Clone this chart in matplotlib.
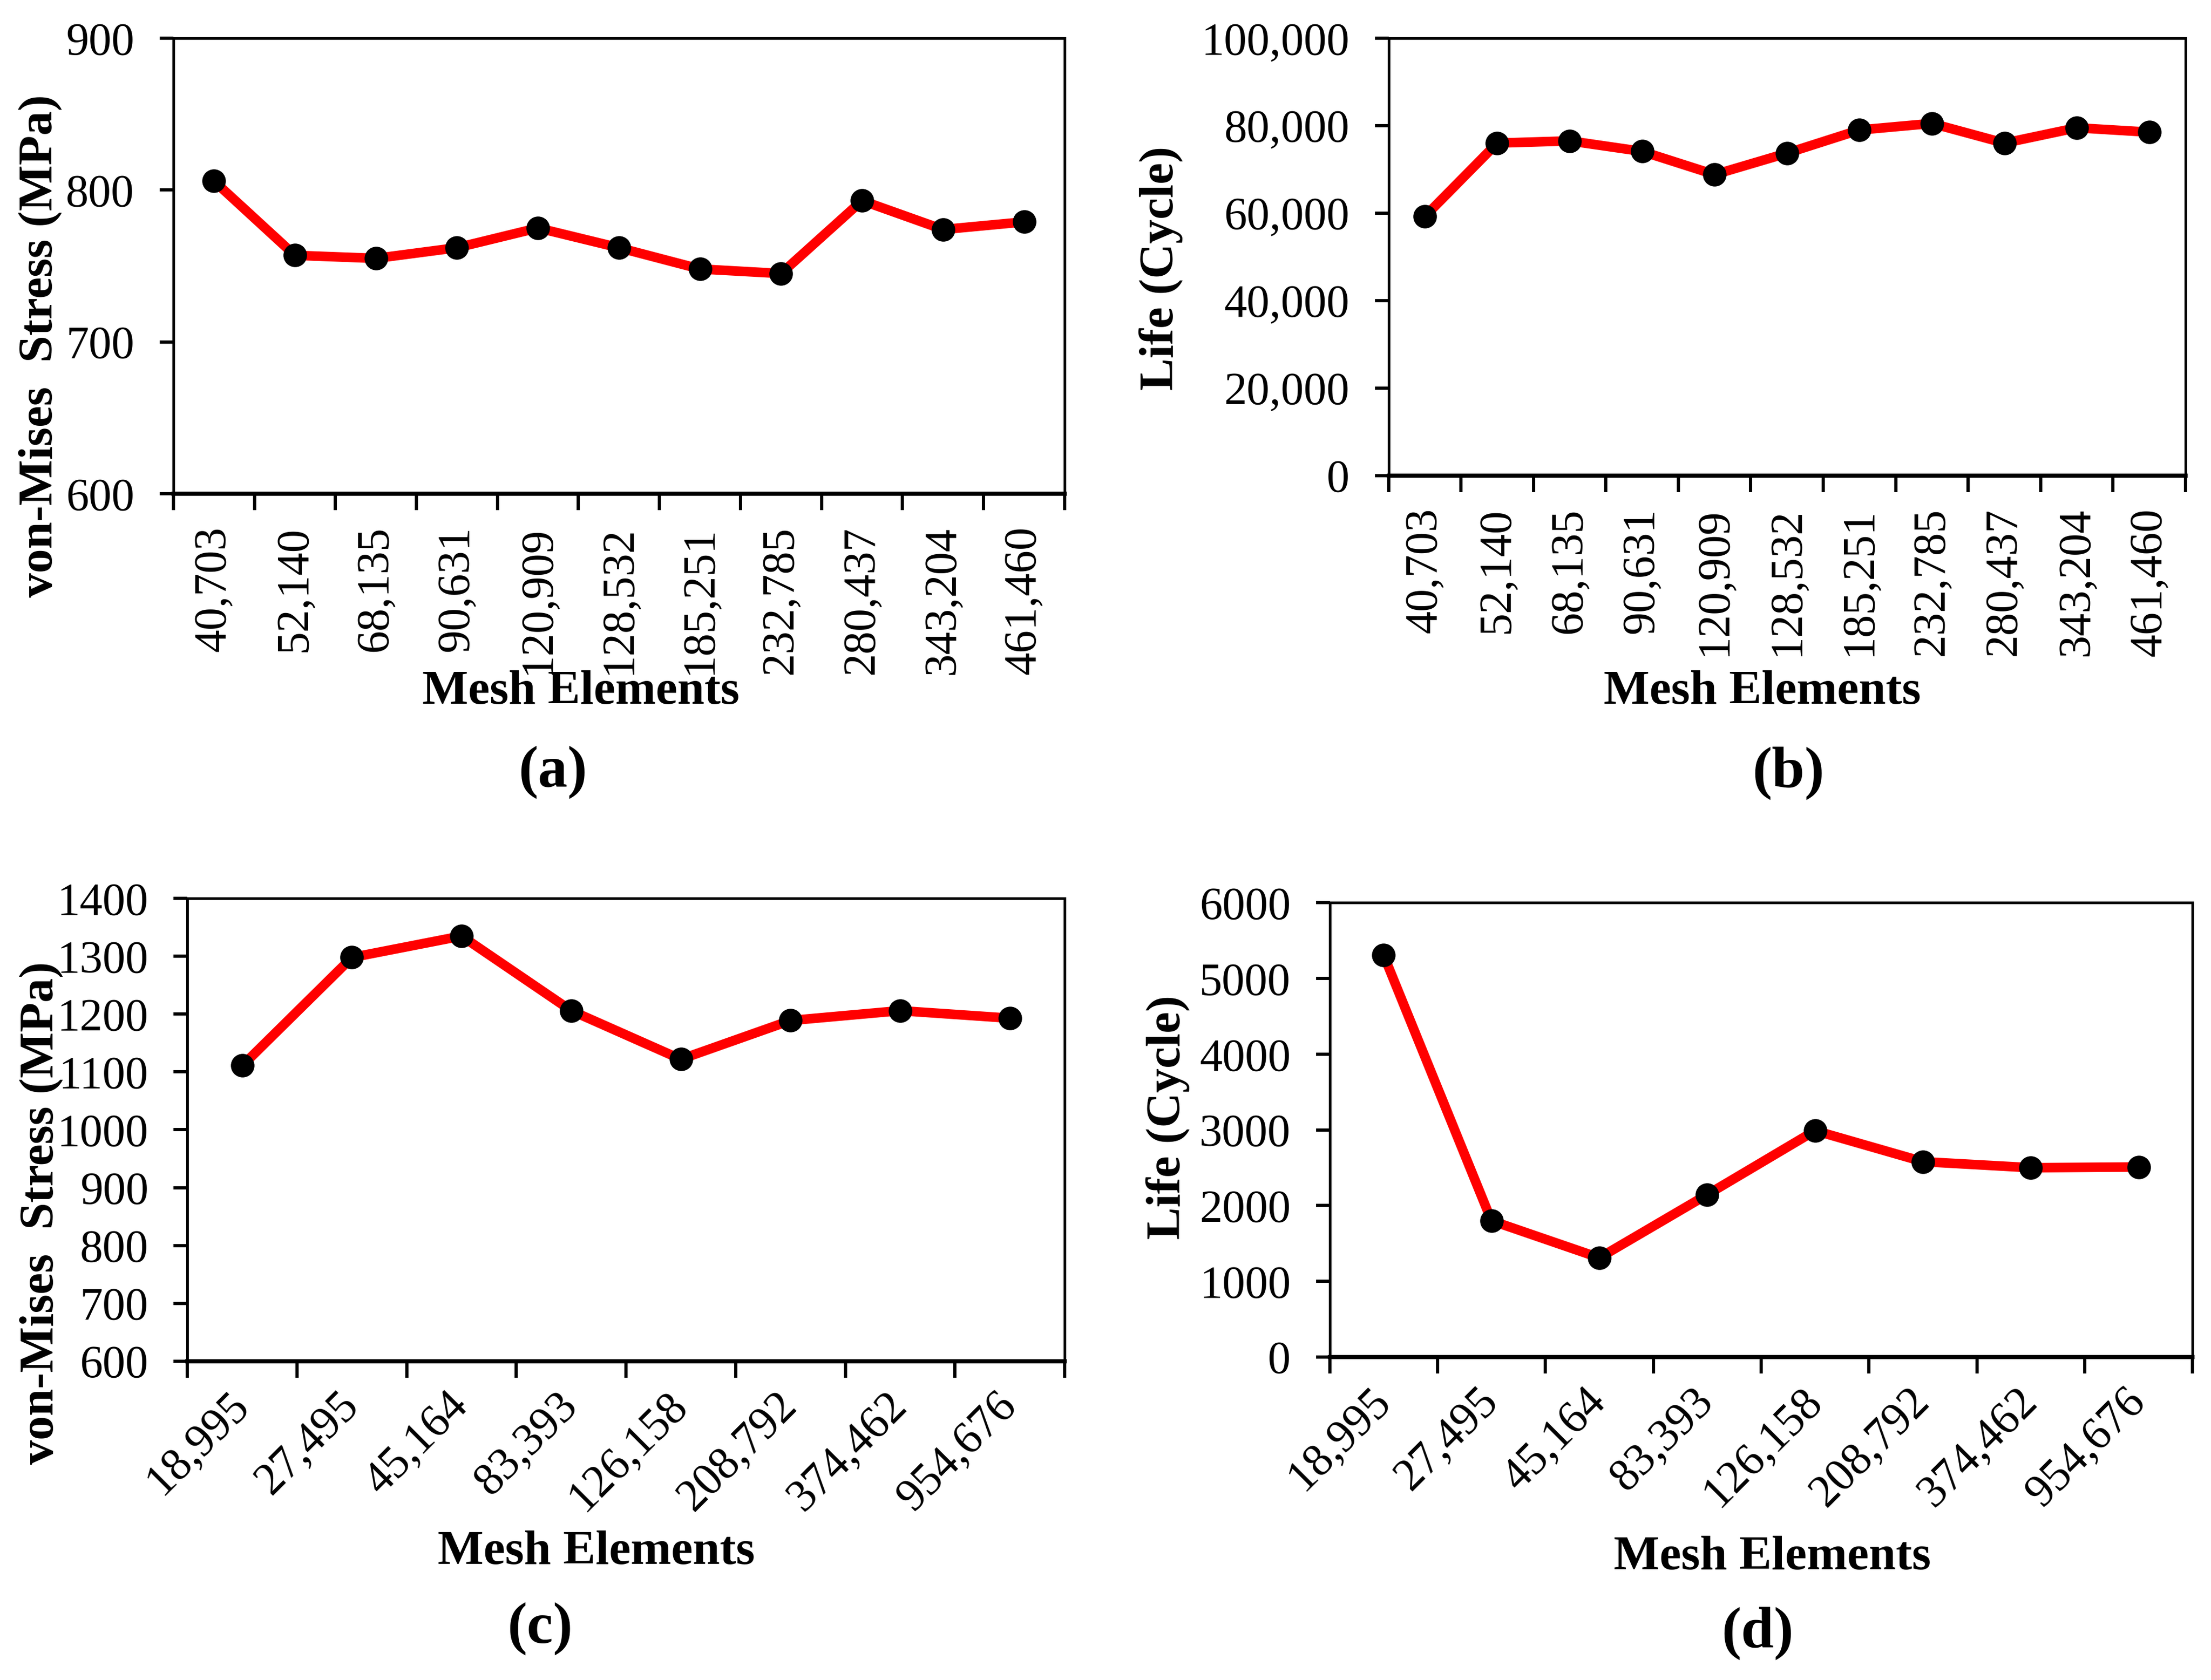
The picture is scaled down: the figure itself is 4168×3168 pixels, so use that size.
import numpy as np
import matplotlib.pyplot as plt

plt.rcParams['font.family'] = ['Liberation Serif', 'DejaVu Serif']

# mesh convergence data
mesh_ab = ['40,703', '52,140', '68,135', '90,631', '120,909', '128,532',
           '185,251', '232,785', '280,437', '343,204', '461,460']
stress_a = [806, 757, 755, 762, 775, 762, 748, 745, 793, 774, 779]
life_b = [59200, 76000, 76500, 74100, 68800, 73700, 79000, 80500, 76000, 79500, 78500]

mesh_cd = ['18,995', '27,495', '45,164', '83,393', '126,158', '208,792',
           '374,462', '954,676']
stress_c = [1111, 1298, 1335, 1206, 1122, 1189, 1206, 1193]
life_d = [5310, 1800, 1310, 2145, 2990, 2580, 2500, 2510]

TICK_FS = 31
LAB_FS = 33


def panel(ax, labels, vals, ymin, ymax, ystep, rot, ylabel, ylab_pos, xlab_pos, comma=False):
    n = len(labels)
    x = np.arange(n)
    ax.plot(x, vals, color='#ff0000', lw=6.5, marker='o', ms=15,
            mfc='black', mec='black', zorder=3)
    ax.set_xlim(-0.5, n - 0.5)
    ax.set_ylim(ymin, ymax)
    ax.set_yticks(np.arange(ymin, ymax + ystep / 2, ystep))
    if comma:
        ax.set_yticklabels(['{:,.0f}'.format(v) for v in ax.get_yticks()])
    # major ticks sit on category borders, labels on minor ticks
    ax.set_xticks(np.arange(n + 1) - 0.5)
    ax.set_xticklabels([])
    ax.set_xticks(x, minor=True)
    if rot == 90:
        ax.set_xticklabels(labels, minor=True, rotation=90, ha='center', va='top')
        ax.tick_params(axis='x', which='minor', length=0, pad=22, labelsize=TICK_FS)
    else:
        ax.set_xticklabels(labels, minor=True, rotation=45, ha='right', va='center',
                           rotation_mode='anchor')
        ax.tick_params(axis='x', which='minor', length=0, pad=26, labelsize=TICK_FS)
    ax.tick_params(axis='x', which='major', length=11, width=2.2, direction='out')
    ax.tick_params(axis='y', length=9.5, width=2.2, direction='out', pad=17, labelsize=TICK_FS)
    for s in ax.spines.values():
        s.set_linewidth(1.8)
    ax.spines['bottom'].set_linewidth(2.8)
    ax.set_ylabel(ylabel, fontsize=LAB_FS, fontweight='bold')
    ax.yaxis.set_label_coords(*ylab_pos)
    ax.set_xlabel('Mesh Elements', fontsize=LAB_FS, fontweight='bold')
    ax.xaxis.set_label_coords(*xlab_pos)


fig = plt.figure(figsize=(20.84, 15.84), dpi=200)

ax_a = fig.add_axes([0.0784, 0.7061, 0.4031, 0.2712])
ax_b = fig.add_axes([0.6280, 0.7170, 0.3605, 0.2603])
ax_c = fig.add_axes([0.0848, 0.1898, 0.3967, 0.2754])
ax_d = fig.add_axes([0.6014, 0.1923, 0.3903, 0.2703])

panel(ax_a, mesh_ab, stress_a, 600, 900, 100, 90, 'von-Mises  Stress (MPa)',
      (-0.125, 0.325), (0.457, -0.387))
panel(ax_b, mesh_ab, life_b, 0, 100000, 20000, 90, 'Life (Cycle)',
      (-0.258, 0.474), (0.469, -0.445), comma=True)
panel(ax_c, mesh_cd, stress_c, 600, 1400, 100, 45, 'von-Mises  Stress (MPa)',
      (-0.142, 0.32), (0.466, -0.366))
panel(ax_d, mesh_cd, life_d, 0, 6000, 1000, 45, 'Life (Cycle)',
      (-0.162, 0.528), (0.513, -0.394))

for txt, px, py in [('(a)', 0.250, 0.540), ('(b)', 0.8087, 0.540),
                    ('(c)', 0.2443, 0.0302), ('(d)', 0.795, 0.0277)]:
    fig.text(px, py, txt, fontsize=40, fontweight='bold', ha='center', va='center')

fig.savefig('out.png', dpi=200)
